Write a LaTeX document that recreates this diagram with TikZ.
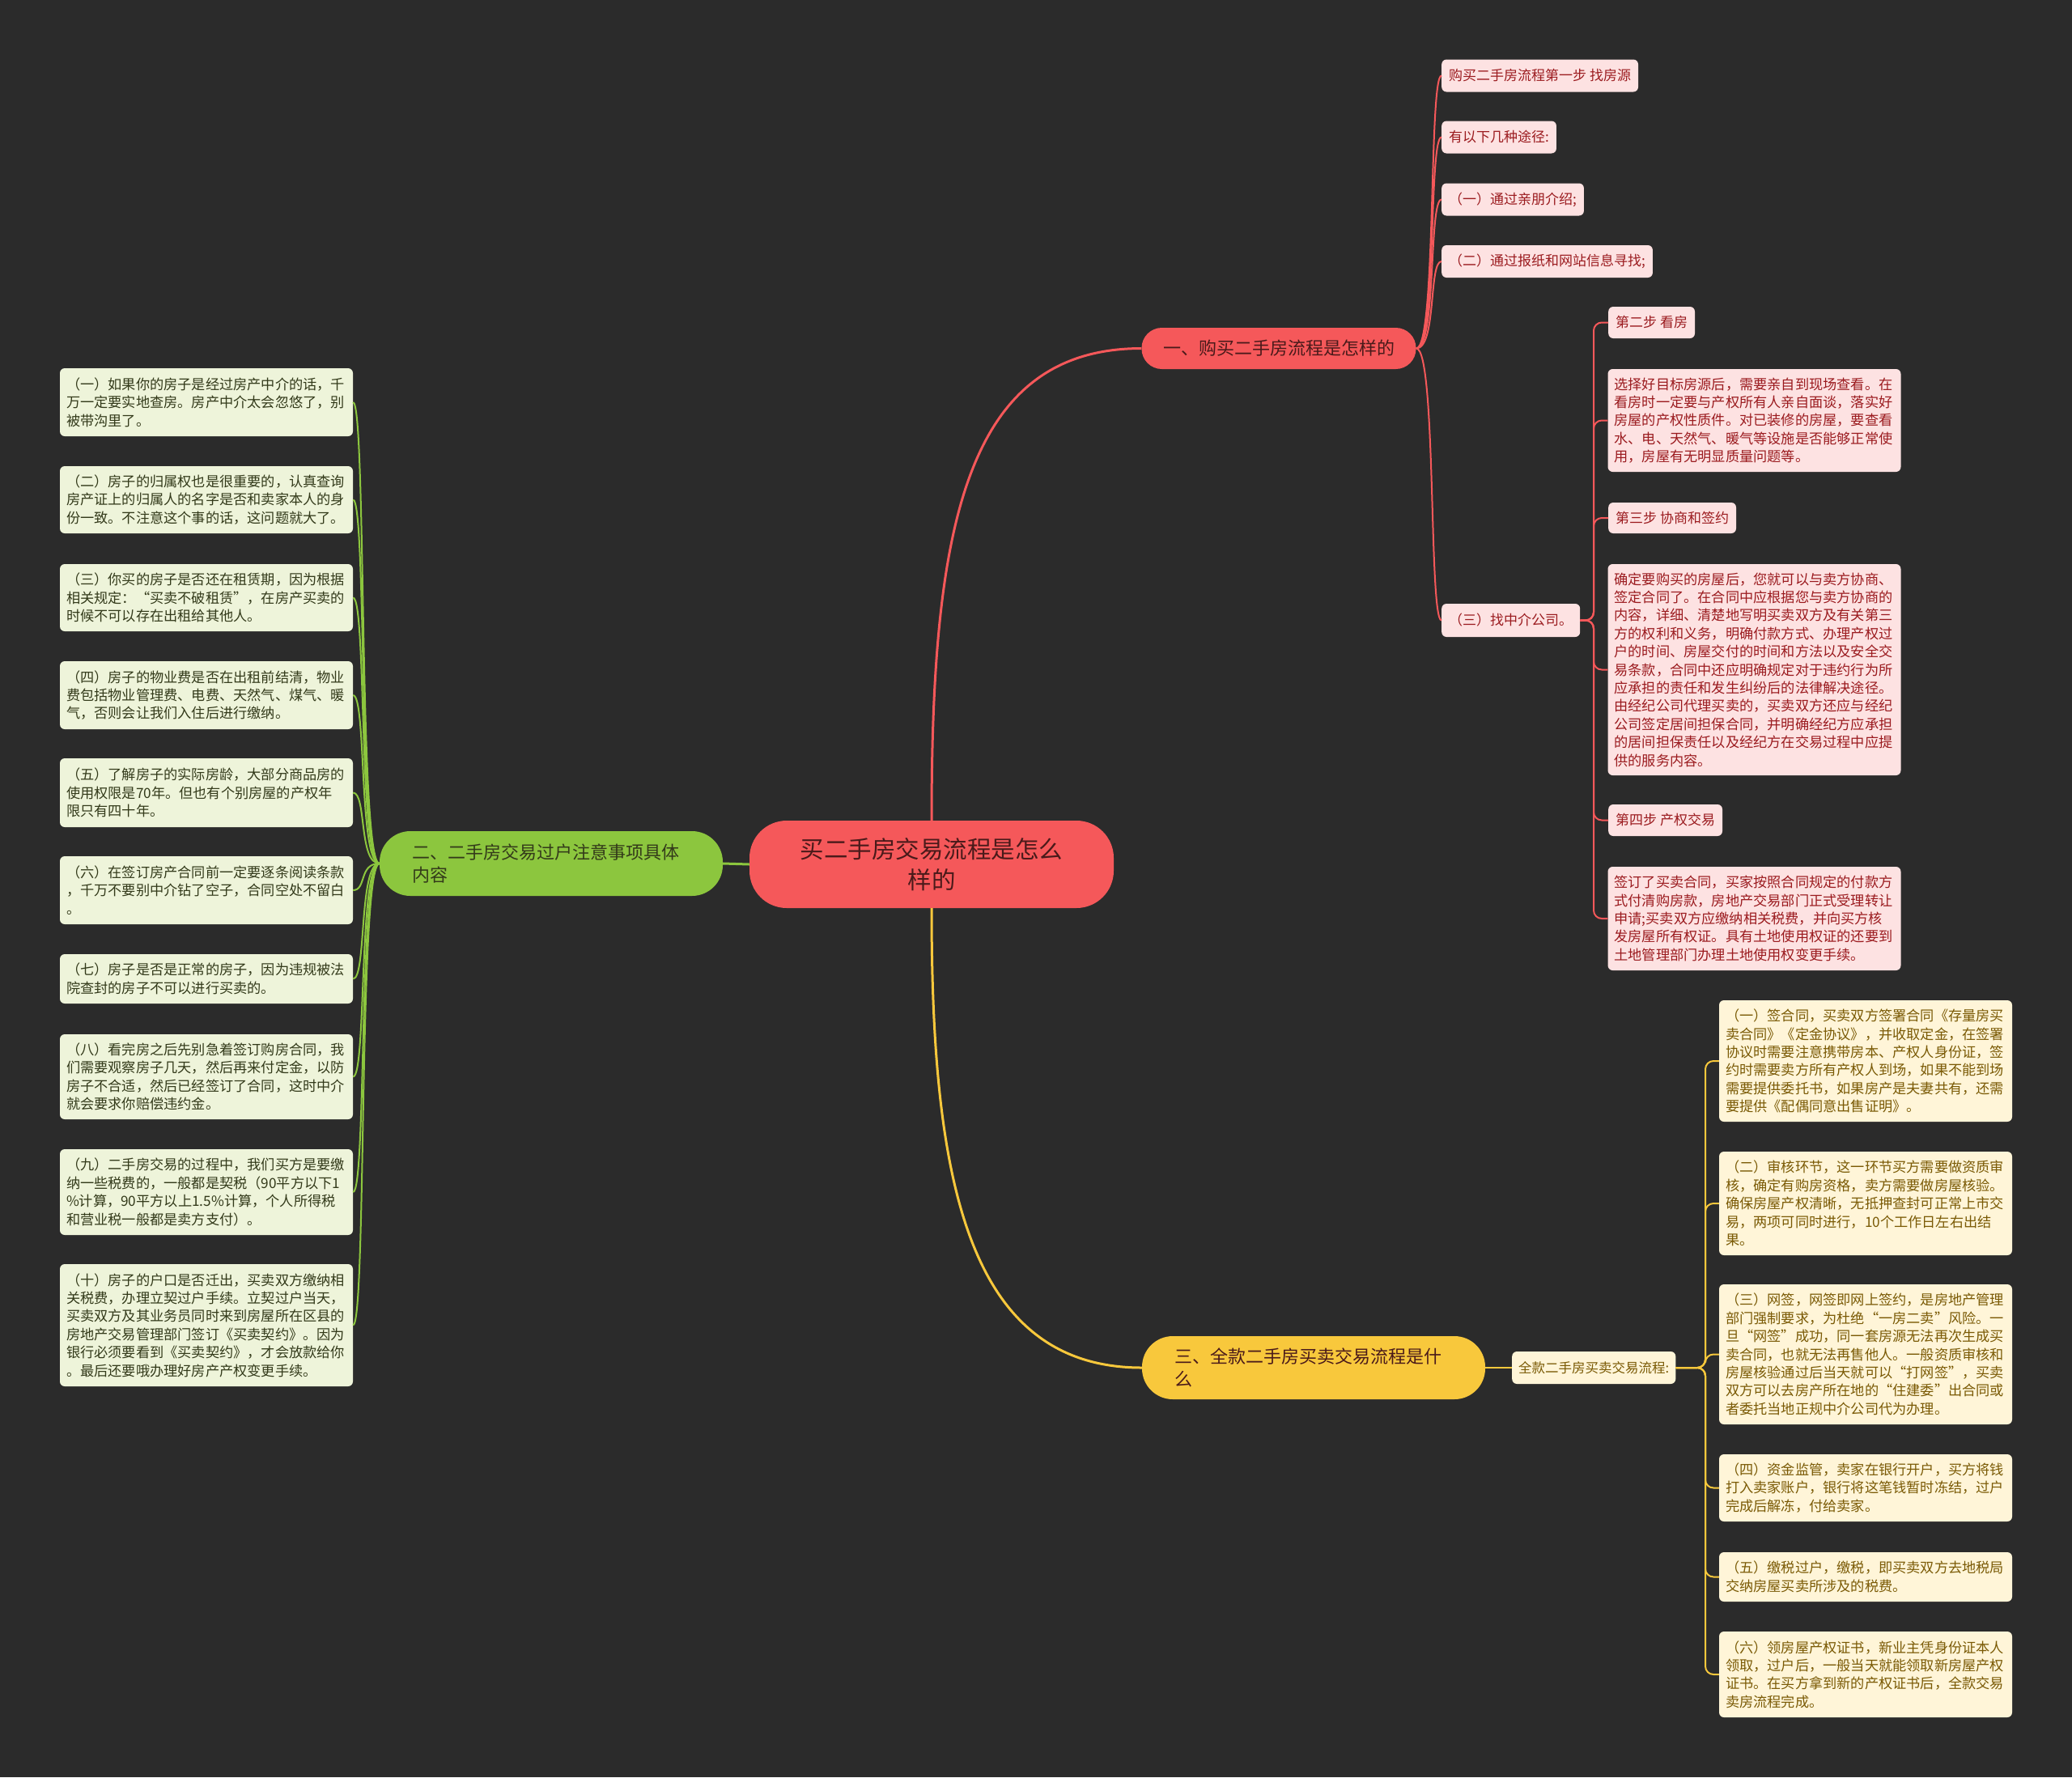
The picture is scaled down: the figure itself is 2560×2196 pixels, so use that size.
\documentclass[tikz,border=0pt]{standalone}
\usepackage{fontspec}
\setmainfont{Noto Sans CJK SC}
\definecolor{bg}{HTML}{2B2B2B}
\definecolor{cred}{HTML}{F5585A}
\definecolor{lred}{HTML}{FDE2E2}
\definecolor{tred}{HTML}{9B1B1F}
\definecolor{cgreen}{HTML}{8CC63E}
\definecolor{lgreen}{HTML}{EEF4DA}
\definecolor{tgreen}{HTML}{333A1A}
\definecolor{cyellow}{HTML}{F8C83C}
\definecolor{lyellow}{HTML}{FFF5D8}
\definecolor{tyellow}{HTML}{7A5A05}
\definecolor{tcenter}{HTML}{4A1A1A}
\tikzset{
 leaf/.style={rounded corners=6pt, text width=346pt, inner xsep=8pt, inner ysep=4pt, align=left, font=\fontsize{17.2}{22.4}\selectfont},
 gleaf/.style={leaf, fill=lgreen, text=tgreen},
 rleaf/.style={leaf, fill=lred, text=tred},
 yleaf/.style={leaf, fill=lyellow, text=tyellow},
 rtag/.style={rounded corners=6pt, fill=lred, text=tred, inner xsep=9pt, inner ysep=0pt, minimum height=40pt, font=\fontsize{17}{20}\selectfont, anchor=west},
 ytag/.style={rounded corners=6pt, fill=lyellow, text=tyellow, inner xsep=8pt, inner ysep=0pt, minimum height=40pt, font=\fontsize{16.5}{20}\selectfont, anchor=west},
 mainnode/.style={inner xsep=0pt, inner ysep=0pt, font=\fontsize{22}{28}\selectfont},
 thick3/.style={line width=3pt},
 thin2/.style={line width=2pt},
}
\begin{document}
\begin{tikzpicture}[x=1pt,y=-1pt]
\useasboundingbox (0,0) rectangle (2560,2196);
\fill[bg] (0,0) rectangle (2560,2196);

% central topic
\node[mainnode, fill=cred, text=tcenter, rounded corners=46pt, minimum width=450pt, minimum height=108pt, text width=340pt, align=center, font=\fontsize{29.5}{38}\selectfont] (c) at (1151,1068) {买二手房交易流程是怎么\\样的};

% main branches
\node[mainnode, fill=cred, text=tcenter, rounded corners=25pt, minimum width=339pt, minimum height=51pt] (r) at (1580,430.5) {一、购买二手房流程是怎样的};
\node[mainnode, fill=cgreen, text=tgreen, rounded corners=38pt, minimum width=424pt, minimum height=80pt, text width=344pt, align=left] (g) at (681,1067) {二、二手房交易过户注意事项具体\\内容};
\node[mainnode, fill=cyellow, text=tcenter, rounded corners=38pt, minimum width=424pt, minimum height=78pt, text width=344pt, align=left] (y) at (1623,1690) {三、全款二手房买卖交易流程是什\\么};

% green leaves
\node[gleaf, minimum height=84pt] (g1) at (255,497) {（一）如果你的房子是经过房产中介的话，千\\万一定要实地查房。房产中介太会忽悠了，别\\被带沟里了。};
\node[gleaf, minimum height=83pt] (g2) at (255,617.5) {（二）房子的归属权也是很重要的，认真查询\\房产证上的归属人的名字是否和卖家本人的身\\份一致。不注意这个事的话，这问题就大了。};
\node[gleaf, minimum height=83pt] (g3) at (255,738.5) {（三）你买的房子是否还在租赁期，因为根据\\相关规定：“买卖不破租赁”，在房产买卖的\\时候不可以存在出租给其他人。};
\node[gleaf, minimum height=84pt] (g4) at (255,859) {（四）房子的物业费是否在出租前结清，物业\\费包括物业管理费、电费、天然气、煤气、暖\\气，否则会让我们入住后进行缴纳。};
\node[gleaf, minimum height=85pt] (g5) at (255,979.5) {（五）了解房子的实际房龄，大部分商品房的\\使用权限是70年。但也有个别房屋的产权年\\限只有四十年。};
\node[gleaf, minimum height=84pt] (g6) at (255,1100) {（六）在签订房产合同前一定要逐条阅读条款\\，千万不要别中介钻了空子，合同空处不留白\\。};
\node[gleaf, minimum height=61pt] (g7) at (255,1209.5) {（七）房子是否是正常的房子，因为违规被法\\院查封的房子不可以进行买卖的。};
\node[gleaf, minimum height=105pt] (g8) at (255,1330.5) {（八）看完房之后先别急着签订购房合同，我\\们需要观察房子几天，然后再来付定金，以防\\房子不合适，然后已经签订了合同，这时中介\\就会要求你赔偿违约金。};
\node[gleaf, minimum height=106pt] (g9) at (255,1473) {（九）二手房交易的过程中，我们买方是要缴\\纳一些税费的，一般都是契税（90平方以下1\\\%计算，90平方以上1.5\%计算，个人所得税\\和营业税一般都是卖方支付）。};
\node[gleaf, minimum height=151pt] (g10) at (255,1637.5) {（十）房子的户口是否迁出，买卖双方缴纳相\\关税费，办理立契过户手续。立契过户当天，\\买卖双方及其业务员同时来到房屋所在区县的\\房地产交易管理部门签订《买卖契约》。因为\\银行必须要看到《买卖契约》，才会放款给你\\。最后还要哦办理好房产产权变更手续。};

% red level 2
\node[rtag] (ra) at (1781,93.5) {购买二手房流程第一步 找房源};
\node[rtag] (rb) at (1781,169.5) {有以下几种途径:};
\node[rtag] (rc) at (1781,246.5) {（一）通过亲朋介绍;};
\node[rtag] (rd) at (1781,323) {（二）通过报纸和网站信息寻找;};
\node[rtag, minimum height=41pt] (re) at (1781,766.5) {（三）找中介公司。};

% red level 3
\node[rtag, minimum height=39pt] (s1) at (1987,398.5) {第二步 看房};
\node[rleaf, minimum height=127pt] (s2) at (2167.5,519.5) {选择好目标房源后，需要亲自到现场查看。在\\看房时一定要与产权所有人亲自面谈，落实好\\房屋的产权性质件。对已装修的房屋，要查看\\水、电、天然气、暖气等设施是否能够正常使\\用，房屋有无明显质量问题等。};
\node[rtag, minimum height=38pt] (s3) at (1987,640) {第三步 协商和签约};
\node[rleaf, minimum height=261pt] (s4) at (2167.5,827.5) {确定要购买的房屋后，您就可以与卖方协商、\\签定合同了。在合同中应根据您与卖方协商的\\内容，详细、清楚地写明买卖双方及有关第三\\方的权利和义务，明确付款方式、办理产权过\\户的时间、房屋交付的时间和方法以及安全交\\易条款，合同中还应明确规定对于违约行为所\\应承担的责任和发生纠纷后的法律解决途径。\\由经纪公司代理买卖的，买卖双方还应与经纪\\公司签定居间担保合同，并明确经纪方应承担\\的居间担保责任以及经纪方在交易过程中应提\\供的服务内容。};
\node[rtag, minimum height=39pt] (s5) at (1987,1013.5) {第四步 产权交易};
\node[rleaf, minimum height=128pt] (s6) at (2167.5,1135) {签订了买卖合同，买家按照合同规定的付款方\\式付清购房款，房地产交易部门正式受理转让\\申请;买卖双方应缴纳相关税费，并向买方核\\发房屋所有权证。具有土地使用权证的还要到\\土地管理部门办理土地使用权变更手续。};

% yellow
\node[ytag] (ys) at (1868,1690) {全款二手房买卖交易流程:};
\node[yleaf, minimum height=150pt] (y1) at (2305,1311) {（一）签合同，买卖双方签署合同《存量房买\\卖合同》《定金协议》，并收取定金，在签署\\协议时需要注意携带房本、产权人身份证，签\\约时需要卖方所有产权人到场，如果不能到场\\需要提供委托书，如果房产是夫妻共有，还需\\要提供《配偶同意出售证明》。};
\node[yleaf, minimum height=128pt] (y2) at (2305,1487) {（二）审核环节，这一环节买方需要做资质审\\核，确定有购房资格，卖方需要做房屋核验。\\确保房屋产权清晰，无抵押查封可正常上市交\\易，两项可同时进行，10个工作日左右出结\\果。};
\node[yleaf, minimum height=173pt] (y3) at (2305,1673.5) {（三）网签，网签即网上签约，是房地产管理\\部门强制要求，为杜绝“一房二卖”风险。一\\旦“网签”成功，同一套房源无法再次生成买\\卖合同，也就无法再售他人。一般资质审核和\\房屋核验通过后当天就可以“打网签”，买卖\\双方可以去房产所在地的“住建委”出合同或\\者委托当地正规中介公司代为办理。};
\node[yleaf, minimum height=83pt] (y4) at (2305,1838.5) {（四）资金监管，卖家在银行开户，买方将钱\\打入卖家账户，银行将这笔钱暂时冻结，过户\\完成后解冻，付给卖家。};
\node[yleaf, minimum height=61pt] (y5) at (2305,1948.5) {（五）缴税过户，缴税，即买卖双方去地税局\\交纳房屋买卖所涉及的税费。};
\node[yleaf, minimum height=106pt] (y6) at (2305,2069) {（六）领房屋产权证书，新业主凭身份证本人\\领取，过户后，一般当天就能领取新房屋产权\\证书。在买方拿到新的产权证书后，全款交易\\卖房流程完成。};

% connectors: center to main
\draw[thick3, cred] (c.north) .. controls (1151,653) and (1192,430.5) .. (r.west);
\draw[thick3, cyellow] (c.south) .. controls (1151,1450) and (1192,1690) .. (y.west);
\draw[thick3, cgreen] (c.west) -- (g.east);

% green leaves
\foreach \n in {g1,g2,g3,g4,g5,g6,g7,g8,g9,g10}{
  \draw[thin2, cgreen] (g.west) .. controls (443,1067) and (453,0 |- \n.east) .. (\n.east);
}
% red level 2
\foreach \n in {ra,rb,rc,rd,re}{
  \draw[thin2, cred] (r.east) .. controls (1775,430.5) and (1765,0 |- \n.west) .. (\n.west);
}
% red level 3
\coordinate (rtrunk) at (1969,766.5);
\foreach \n in {s1,s2,s3,s4,s5,s6}{
  \draw[thin2, cred, rounded corners=10pt] (re.east) -- (rtrunk) |- (\n.west);
}
% yellow
\draw[thin2, cyellow] (y.east) -- (ys.west);
\coordinate (ytrunk) at (2107,1690);
\foreach \n in {y1,y2,y3,y4,y5,y6}{
  \draw[thin2, cyellow, rounded corners=10pt] (ys.east) -- (ytrunk) |- (\n.west);
}
\end{tikzpicture}
\end{document}
